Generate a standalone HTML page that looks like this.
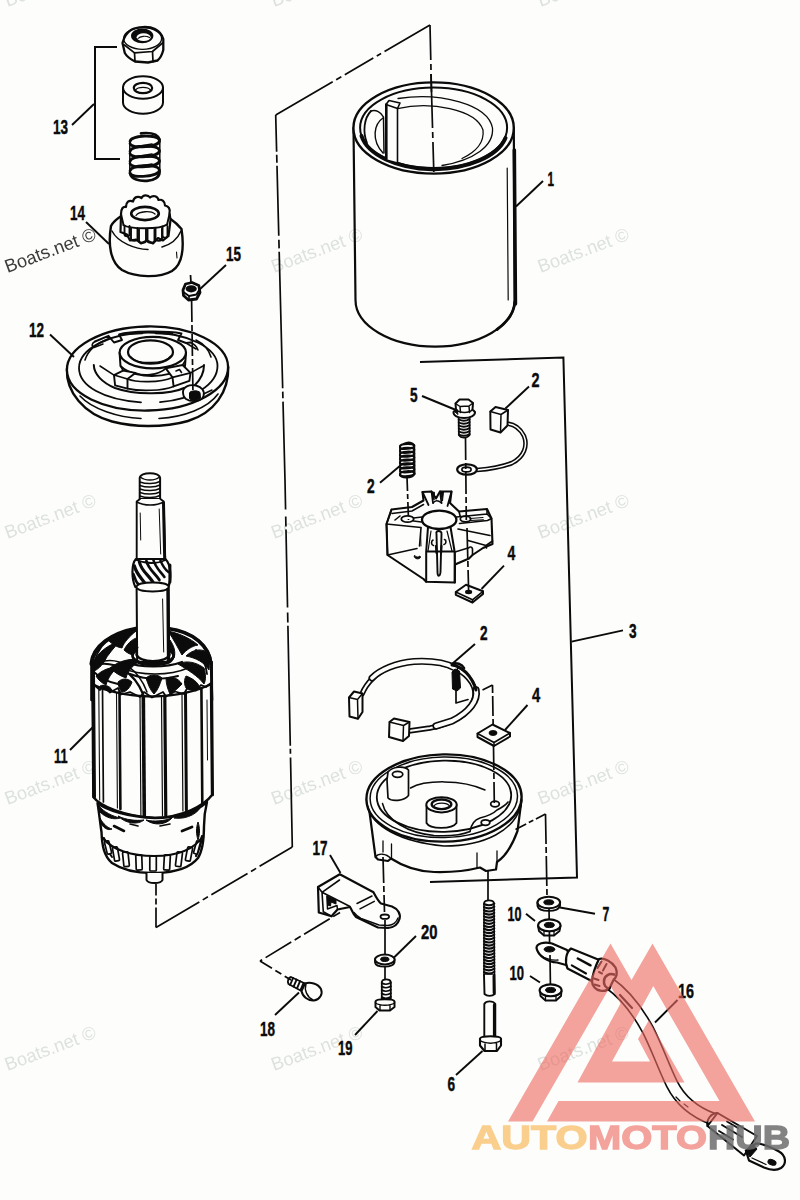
<!DOCTYPE html>
<html lang="en">
<head>
<meta charset="utf-8">
<title>Starter Motor Assembly - Exploded Parts Diagram</title>
<style>
html,body{margin:0;padding:0;background:#fdfefc;}
body{width:800px;height:1200px;overflow:hidden;font-family:"Liberation Sans",sans-serif;}
svg{display:block;position:absolute;left:0;top:0;}
.ln{fill:none;stroke:#0b0b0b;stroke-width:1.7;stroke-linecap:round;stroke-linejoin:round;}
.lw{fill:#fdfefc;stroke:#0b0b0b;stroke-width:1.7;stroke-linecap:round;stroke-linejoin:round;}
.th{fill:none;stroke:#0b0b0b;stroke-width:1.1;stroke-linecap:round;stroke-linejoin:round;}
.tk{fill:none;stroke:#0b0b0b;stroke-width:2.8;stroke-linecap:round;stroke-linejoin:round;}
.bk{fill:#0b0b0b;stroke:#0b0b0b;stroke-width:1;stroke-linejoin:round;}
.ld{fill:none;stroke:#0b0b0b;stroke-width:1.9;stroke-linecap:butt;}
.ds{fill:none;stroke:#0b0b0b;stroke-width:1.7;stroke-linecap:butt;}
.num{font-family:"Liberation Sans",sans-serif;font-weight:700;font-size:20.5px;fill:#0b0b0b;stroke:#0b0b0b;stroke-width:0.45;}
.wm{font-family:"Liberation Sans",sans-serif;font-size:18.5px;fill:#dfe3e1;}
.wmd{font-family:"Liberation Sans",sans-serif;font-size:18.5px;fill:#3c3c3c;}
.logo{font-family:"Liberation Sans",sans-serif;font-weight:700;font-size:32.5px;}
</style>
</head>
<body>
<svg width="800" height="1200" viewBox="0 0 800 1200">
<rect x="0" y="0" width="800" height="1200" fill="#fdfefc"/>
<!-- 20_cyl -->
<g>
<!-- body -->
<path class="lw" d="M353.5,128 L355.5,300 A79.5,46.5 0 0 0 514.8,300 L513.8,128 Z" style="stroke-width:2.2"/>
<ellipse class="lw" cx="433.6" cy="128" rx="80.2" ry="45.6" style="stroke-width:2.4"/>
<ellipse class="th" cx="433.6" cy="127.8" rx="73.5" ry="40.2" style="stroke-width:2"/>
<!-- thick front inner wall -->
<path class="tk" d="M361.5,136 A73.5,40.2 0 0 0 505.5,138" style="stroke-width:4"/>
<!-- third inner ellipse (far wall bottom) -->
<path class="th" d="M398,98.5 C440,92 488,104 492.5,128 C494,146 474,160 442,165.5" style="stroke-width:1.3"/>
<path class="th" d="M397.500,108.700 C430,101 476,109 483,130 C484.500,142 476,152 462,158.500" style="stroke-width:1.3"/>
<!-- pole piece -->
<path class="lw" d="M386,104.5 L389,100.5 L400,103 L397.5,108.5 L397.5,163 L386.3,160 Z" style="stroke-width:1.6"/>
<path class="ln" d="M386,104.5 L397.5,108.5" style="stroke-width:1.4"/>
<path class="ln" d="M386.3,104.5 L386.3,159" style="stroke-width:2.6"/>
<!-- left curved magnet -->
<path class="ln" d="M371,111 C376,109.5 381,112 383.5,117 L384,153" style="stroke-width:1.5"/>
<path class="ln" d="M383,118 C374,124 371,140 383,153" style="stroke-width:1.4"/>
<path class="ln" d="M371,111 C364,118 362.5,132 367,143" style="stroke-width:1.8"/>
<!-- right side shadow -->
<path class="tk" d="M514.3,150 L515.4,304" style="stroke-width:3.6"/>
<path class="th" d="M507.2,168 L508.2,300" style="stroke-width:1.2"/>
<path class="tk" d="M497,329.5 A79.5,46.5 0 0 0 514.8,302" style="stroke-width:2.8"/>
<!-- centre line inside -->
<path class="ds" d="M431,74 L433.800,172" stroke-dasharray="54 4 6 4 40"/>
</g>
<!-- 30_p13 -->
<g>
<!-- nut 13 -->
<path class="lw" d="M122.500,43 C124,37 127,32.500 131,30 C137,26.500 149,26 155,29 C159,31 162,34.500 163.300,39 L163.300,50 C162,55 160,58.500 157.500,60.500 L148,62.500 L135,61.500 C130,59 126.500,56 124.800,53 Z" style="stroke-width:2.3"/>
<ellipse class="ln" cx="142.600" cy="38.500" rx="19" ry="10.800" style="stroke-width:1.3"/>
<path class="ln" d="M124.500,45 L134.500,52.800 L152.500,51.500 L162.500,43" style="stroke-width:1.7"/>
<path class="ln" d="M134.500,52.800 L135,61.500 M152.500,51.500 L153,61.800" style="stroke-width:1.7"/>
<ellipse cx="142.200" cy="35.800" rx="10.200" ry="6.400" fill="#0b0b0b" stroke="#0b0b0b" stroke-width="2"/>
<ellipse cx="143.600" cy="37.200" rx="7" ry="3.900" fill="#fdfefc"/>
<path class="ln" d="M138,38.500 C140,36 146,35.500 149.500,37.500" style="stroke-width:1.2"/>
<!-- spacer -->
<path class="lw" d="M123,87.5 L123,102.5 A20,11.3 0 0 0 163,102.5 L163,87.5" style="stroke-width:2"/>
<ellipse class="lw" cx="143" cy="87.5" rx="20" ry="11.3" style="stroke-width:2"/>
<ellipse class="lw" cx="143" cy="88" rx="9.2" ry="5.2" style="stroke-width:2.2"/>
<path class="ln" d="M135.5,90 C138,86.5 148,86.5 150.5,90" style="stroke-width:1.3"/>
<!-- spring -->
<g fill="none" stroke="#0b0b0b" stroke-width="2.7" stroke-linecap="round">
<path d="M141,133.300 C151,132.300 158,134.500 159.500,139.500"/>
<path d="M130,141.5 C131,135.0 158,134.0 159.500,140.5 C160,147.0 132,149.5 130,143.5"/>
<path d="M130,151.5 C131,145.0 158,144.0 159.500,150.5 C160,157.0 132,159.5 130,153.5"/>
<path d="M130,161.5 C131,155.0 158,154.0 159.500,160.5 C160,167.0 132,169.5 130,163.5"/>
<path d="M130,171 C131,164.5 158,163.5 159.500,170 C160,176.5 132,179 130,173"/>
<path d="M130,173 C131,179.500 140,181.300 147,180.800 C154,180.300 160,177 159.500,171.500"/>
<path d="M129.800,141 L129.800,174 M159.800,139 L159.800,172" stroke-width="1.5"/>
<path d="M137,146.500 L152,144 M137,156.500 L152,154 M137,166.500 L152,164" stroke-width="1.6"/>
</g>
</g>
<!-- 31_p14 -->
<g>
<!-- pinion 14: dome body -->
<path class="lw" d="M111,226 C108,244 110,262 122,270 C136,278 160,278 172,271 C183,264 184,246 181.5,229 C176,222 170,218.500 168,217 L123,215 C118,218 113,222 111,226 Z" style="stroke-width:2.4"/>
<path class="ln" d="M112,231 C118,243 136,249 148,249.500" style="stroke-width:1.5"/>
<path class="ln" d="M162,247 C171,244.500 178,238 181,231" style="stroke-width:1.5"/>
<path class="th" d="M176.500,252 L177,258"/>
<!-- gear teeth top -->
<path class="lw" d="M120.500,232 L121,214 C121,209 123,206 126,207 C126,202 129,199.500 133,201.500 C134,197 138,195.500 141.500,198 C143,194.500 148,194.500 150,197.500 C153,195 157.500,196 158.500,200 C162,199 165,201.500 165,205.500 C168.500,206 170.500,209 169.500,213 L170.500,220 L168.500,236 L163,240.500 L158,238 L153,243.500 L147,240.500 L141,243.500 L136,239.500 L130,240.500 L127,234.500 Z" style="stroke-width:2.2"/>
<ellipse class="lw" cx="145" cy="213.500" rx="13.8" ry="6.600" style="stroke-width:2.6"/>
<path class="ln" d="M136,215.500 C139,211 151,210.500 155,214" style="stroke-width:1.3"/>
<g class="ln" style="stroke-width:1.9">
<path d="M124.5,226 L124.5,234 C124.5,237 129.5,237 129.5,234 L129.5,226"/>
<path d="M131,228 L131,238.5 C131,241.5 137.5,241.5 137.5,238.5 L137.5,228"/>
<path d="M139,229.5 L139,240.5 C139,243.5 146,243.5 146,240.5 L146,229.5"/>
<path d="M147.5,229.5 L147.5,240.5 C147.5,243.5 154.5,243.5 154.5,240.5 L154.5,229.5"/>
<path d="M155.5,228.5 L155.5,238.5 C155.5,241.5 162.0,241.5 162.0,238.5 L162.0,228.5"/>
<path d="M162.5,226.5 L162.5,235.5 C162.5,238.5 167.5,238.5 167.5,235.5 L167.5,226.5"/>
<path d="M121,214 L123.500,225 M169.500,214 L167,225"/>
<path d="M123.500,225 C130,229.500 160,229.500 167,224.500"/>
</g>
<!-- nut 15 -->
<path class="lw" d="M183,290 L185.500,284 L192,282.500 L198.800,285.500 L200,292.500 L196.500,299 L188.500,300 L183.500,295.500 Z" style="stroke-width:2.8"/>
<ellipse cx="191.200" cy="288.800" rx="5.600" ry="3.600" fill="#0b0b0b"/>
<path class="ln" d="M184,292.500 L189,296 L196.500,294.500 L199.500,289.500" style="stroke-width:2"/>
<path class="ln" d="M189,296 L189,299.500" style="stroke-width:1.6"/>
</g>
<!-- 32_p12 -->
<g>
<!-- plate 12 : bowl underside -->
<path class="lw" d="M66.900,369 C66,392 84,414 112,421.500 C124,424.500 136,426 148,426 C160,426 176,424.500 188,421 C214,413 229,392 228.200,367 Z" style="stroke-width:2.4"/>
<path class="ln" d="M80,396 C92,409 118,417.500 141,418.500 M159,418.500 C184,417 208,408 218,394" style="stroke-width:1.6"/>
<!-- top rim -->
<ellipse class="lw" cx="147.500" cy="368.500" rx="80.600" ry="42" style="stroke-width:2.3" transform="rotate(-1.3 147.5 368.5)"/>
<!-- inner ring (broken at bottom centre) -->
<path class="ln" d="M141,402.300 C104,400 79,386 79,368 C79,349 110,332.500 148,332.500 C188,332.500 217.500,348 217.500,366 C217.500,384 194,399.500 160,402.200" style="stroke-width:1.8"/>
<!-- dish walls -->
<path class="ln" d="M93.800,365 C94,374 102,382.500 115,388 C126,392 140,393.500 152,393.300 C166,393 178,391 184,388" style="stroke-width:2"/>
<path class="ln" d="M204,365 C204,372 201,379 195,385" style="stroke-width:2"/>
<path class="ln" d="M85,360 C88,350 96,344 106,340 M196,340 C204,344 209,350 211,357" style="stroke-width:1.6"/>
<!-- top inner contour + notches -->
<path class="ln" d="M95,341.500 L108.500,335.800 L114,342.500 L122,340 L119,334.500 C130,331 166,330.500 181.500,333.500 L178,340 L186,343 L190.500,342.500" style="stroke-width:1.9"/>
<path class="ln" d="M95,341.500 C92,343 91,346 94,347.500 L103,344" style="stroke-width:1.5"/>
<path class="tk" d="M131,333.500 L142,333 M156,333 L172,333.800" style="stroke-width:2.6"/>
<path class="ln" d="M186,343 L196,349 M190.500,342.500 C194,344 197,347 198,350" style="stroke-width:1.5"/>
<!-- hub -->
<path class="lw" d="M119.600,353 L120.500,366 C128,374 144,376 152,376 C164,376 178,373 185,366 L186,353" style="stroke-width:2"/>
<ellipse class="lw" cx="152.800" cy="352.600" rx="33.200" ry="15.700" style="stroke-width:2.2"/>
<ellipse class="lw" cx="150.500" cy="352" rx="22.500" ry="11.600" style="stroke-width:2.2"/>
<path class="ln" d="M131,357 C136,364.500 165,364.500 170.500,356" style="stroke-width:1.3"/>
<!-- left rib -->
<path class="lw" d="M114,375.100 L123,370.600 L135.400,372.900 L127.500,379 L127.500,388.600 L115.100,385.300 Z" style="stroke-width:1.9"/>
<path class="ln" d="M114,375.100 L127.500,379" style="stroke-width:1.6"/>
<path class="ln" d="M114,375.100 L100,366 M123,370.600 L120.500,366" style="stroke-width:1.5"/>
<!-- right rib -->
<path class="lw" d="M165.800,368.400 L182.600,365 L190.500,372.900 L189.400,380.800 L173.600,386.400 L172.500,377.400 Z" style="stroke-width:1.9"/>
<path class="ln" d="M172.500,377.400 L190.500,372.900 M176,371 L179.500,369.500 L181.500,372.500" style="stroke-width:1.6"/>
<path class="ln" d="M182.600,365 L185,361 M190.500,372.900 L203,366" style="stroke-width:1.5"/>
<!-- hub base between ribs -->
<path class="ln" d="M127.500,379 C136,382.500 160,383 172.500,377.400 M127.500,388.600 C140,391.500 162,391 173.600,386.400 M135.400,372.900 C142,376 158,376 165.800,368.400" style="stroke-width:1.6"/>
<!-- bolt boss -->
<path class="lw" d="M183,392 C183,387 189,384 196,385.500 C202,387 205,391 203.500,396 C202,401 192,403 186,399 C184,397.500 183,395 183,392 Z" style="stroke-width:1.9"/>
<path class="bk" d="M189.500,393 C190,390.500 198,390 200,392.500 L200.500,398 C199,401 191,401.500 189.500,398.500 Z"/>
<path class="ln" d="M203.500,394 L212,390" style="stroke-width:1.5"/>
</g>
<!-- 40_arm -->
<g>
<path class="lw" d="M91.500,700 L91.500,662 C93,646 112,633 137,628.500 L168,628.500 C194,632 209,646 211,662 L212,700 Z" style="stroke-width:2.6"/>
<path class="tk" d="M91.500,664 C93,646 112,633 137,628.500" style="stroke-width:4.2"/>
<path class="tk" d="M168,628.500 C194,632 209,646 211,664" style="stroke-width:3.6"/>
<path class="bk" d="M93,663 C98,652 108,645 120,641 C114,648 108,654 104,662 C100,668 96,670 93,672 Z"/>
<path class="bk" d="M108,640 C118,634 128,631.500 136,631 C130,636 124,642 122,648 C116,647 112,644 108,640 Z"/>
<path class="bk" d="M124,650 C128,642 134,638 140,637 C137,643 137,650 140,656 C134,656 128,654 124,650 Z"/>
<path class="bk" d="M96,676 C102,670 110,667 118,667 C112,672 108,678 106,685 C102,683 98,680 96,676 Z"/>
<path class="bk" d="M110,668 C120,660 132,658 142,660 C134,664 128,670 126,678 C120,676 114,672 110,668 Z"/>
<path class="bk" d="M168,631 C178,633 190,638 198,645 C192,646 186,650 182,655 C178,648 174,640 168,631 Z"/>
<path class="bk" d="M186,656 C192,650 200,648 207,652 C209,658 210,664 209,670 C204,662 196,658 186,656 Z"/>
<path class="bk" d="M170,640 C174,646 176,652 174,658 C170,658 166,656 164,652 C166,648 168,644 170,640 Z"/>
<path class="bk" d="M178,664 C186,660 196,662 204,668 C206,674 206,680 204,684 C198,676 188,670 178,664 Z"/>
<path class="bk" d="M186,676 C192,678 198,682 200,688 C196,690 190,690 186,688 C184,684 184,680 186,676 Z"/>
<path class="bk" d="M118,682 C122,678 128,678 132,682 C130,688 126,692 122,692 C120,690 118,686 118,682 Z"/>
<path class="bk" d="M146,678 C150,674 158,674 162,678 C160,684 158,690 154,694 C150,690 148,684 146,678 Z"/>
<path class="bk" d="M166,678 C172,676 178,678 182,684 C178,688 174,692 170,694 C168,690 166,684 166,678 Z"/>
<path class="bk" d="M100,686 C104,684 110,686 112,690 C110,692 106,692 102,691 Z"/>
<path class="ln" d="M100,664 C116,662 134,672 143,694" style="stroke-width:2.2"/>
<path class="ln" d="M104,661 C120,658 138,668 147,692" style="stroke-width:1.5"/>
<path class="ln" d="M126,662 C140,668 166,668 182,662" style="stroke-width:2.2"/>
<path class="ln" d="M122,668 C140,676 170,676 188,668" style="stroke-width:1.6"/>
<path class="ln" d="M130,674 C146,680 164,680 178,676" style="stroke-width:2"/>
<path class="ln" d="M94,672 C100,678 108,682 118,684" style="stroke-width:1.8"/>
<path class="ln" d="M196,650 C202,656 206,664 207,674" style="stroke-width:1.8"/>
<path class="ln" d="M112,636 C104,642 98,650 95,660" style="stroke-width:1.6"/>
<ellipse class="lw" cx="153" cy="656" rx="20.500" ry="8.600" style="stroke-width:2.4"/>
<ellipse class="lw" cx="153" cy="655" rx="16.500" ry="6.600" style="stroke-width:1.8"/>
<path class="lw" d="M92.500,684 L93.300,797 C100,806 125,817 155,818 C182,817 204,806 212,795 L211,684 C200,690 178,696 152,696.500 C126,696 102,690 92.500,684 Z" style="stroke-width:2.4"/>
<path class="ln" d="M93,684 L100,690 L103,686 L110,692.500 L118,688 L121,694.500 L130,692 L140,697 L144,692 L152,697.500 L163,692 L166,696.500 L175,691.500 L184,694 L187,688.500 L196,690.500 L201,685 L206,687 L211,683" style="stroke-width:1.8"/>
<path class="ln" d="M93.2,662 L94.3,797" style="stroke-width:3.4"/>
<path class="ln" d="M98.8,690 L99.7,800" style="stroke-width:1.1"/>
<path class="ln" d="M102.5,688 L103.4,802" style="stroke-width:1.7"/>
<path class="ln" d="M116.5,693 L117.4,808" style="stroke-width:1.1"/>
<path class="ln" d="M119.5,692 L120.4,809" style="stroke-width:2.6"/>
<path class="ln" d="M140.0,697 L140.9,815" style="stroke-width:1.2"/>
<path class="ln" d="M143.3,696 L144.3,816" style="stroke-width:3.6"/>
<path class="ln" d="M161.5,697 L162.5,816" style="stroke-width:1.2"/>
<path class="ln" d="M164.8,696 L165.8,816" style="stroke-width:3.2"/>
<path class="ln" d="M182.0,694 L182.9,811" style="stroke-width:1.2"/>
<path class="ln" d="M185.5,693 L186.4,810" style="stroke-width:3.0"/>
<path class="ln" d="M201.4,688 L202.3,803" style="stroke-width:2.6"/>
<path class="ln" d="M211.6,662 L212.7,795" style="stroke-width:2.6"/>
<path class="ln" d="M207.0,700 L207.5,760" style="stroke-width:1.0"/>
<path class="lw" d="M97.500,803 C99,812 100,822 101.500,832 C102,846 104,856 112,863 C124,871 140,873.500 156,873 C174,872.500 190,868 198,858 C203,850 204,838 204,826 C204,818 205,810 207,802 C196,812 176,818 155,818 C128,817 106,810 97.500,803 Z" style="stroke-width:2.4"/>
<path class="bk" d="M99,806 C104,812 112,816 120,818 C114,820 106,818 100,812 Z"/>
<path class="bk" d="M118,816 C126,820 136,821 144,820 C138,825 126,824 118,816 Z"/>
<path class="bk" d="M146,820 C154,822 164,821 172,818 C166,825 154,826 146,820 Z"/>
<path class="bk" d="M174,818 C184,815 194,810 202,804 C200,812 188,820 174,818 Z"/>
<path class="bk" d="M100,818 C103,824 108,828 112,829 C108,831 103,828 100,822 Z"/>
<path class="bk" d="M198,822 C200,828 200,834 198,840 C196,834 196,828 198,822 Z"/>
<path class="ln" d="M114,826 L124,831" style="stroke-width:2.6"/>
<path class="ln" d="M182,831 L192,827" style="stroke-width:2.8"/>
<path class="ln" d="M130,824 L138,826" style="stroke-width:1.6"/>
<path class="ln" d="M160,826 L170,824" style="stroke-width:1.6"/>
<path class="ln" d="M104,838 C106,846 108,852 112,857" style="stroke-width:2"/>
<path class="ln" d="M202,836 C201,844 199,850 196,856" style="stroke-width:2.2"/>
<rect class="lw" x="105.8" y="841" width="4.5" height="13" rx="1" style="stroke-width:1.7" transform="rotate(-14 108 847.5)"/>
<rect class="lw" x="113.5" y="847" width="5" height="14" rx="1" style="stroke-width:1.7" transform="rotate(-10 116 854.0)"/>
<rect class="lw" x="123.2" y="852" width="5.5" height="14.5" rx="1" style="stroke-width:1.7" transform="rotate(-6 126 859.25)"/>
<rect class="lw" x="136.0" y="855" width="6" height="15" rx="1" style="stroke-width:1.7" transform="rotate(-2 139 862.5)"/>
<rect class="lw" x="149.8" y="856" width="6.5" height="15" rx="1" style="stroke-width:1.7" transform="rotate(0 153 863.5)"/>
<rect class="lw" x="164.0" y="855" width="6" height="15" rx="1" style="stroke-width:1.7" transform="rotate(3 167 862.5)"/>
<rect class="lw" x="176.2" y="852" width="5.5" height="14.5" rx="1" style="stroke-width:1.7" transform="rotate(7 179 859.25)"/>
<rect class="lw" x="186.5" y="847" width="5" height="14" rx="1" style="stroke-width:1.7" transform="rotate(11 189 854.0)"/>
<rect class="lw" x="195.0" y="841" width="4" height="13" rx="1" style="stroke-width:1.7" transform="rotate(15 197 847.5)"/>
<path class="ln" d="M103,838 C112,850 132,856 154,856 C176,856 194,850 203,836" style="stroke-width:2.2"/>
<path class="lw" d="M146.500,873 L146.500,880 C148,884 161,884 162.500,880 L162.500,873" style="stroke-width:2"/>
</g>
<g>
<path class="lw" d="M139.7,499 L139.7,478 C139.9,471.500 159.9,471.500 160.1,478 L160.1,499 Z" style="stroke-width:2"/>
<path class="ln" d="M139.9,482 C145.9,484.2 154.9,484.2 159.9,481.5" style="stroke-width:1.5"/>
<path class="ln" d="M139.9,485.5 C145.9,487.7 154.9,487.7 159.9,485.0" style="stroke-width:1.5"/>
<path class="ln" d="M139.9,489 C145.9,491.2 154.9,491.2 159.9,488.5" style="stroke-width:1.5"/>
<path class="ln" d="M139.9,492.5 C145.9,494.7 154.9,494.7 159.9,492.0" style="stroke-width:1.5"/>
<path class="ln" d="M139.9,496 C145.9,498.2 154.9,498.2 159.9,495.5" style="stroke-width:1.5"/>
<path class="ln" d="M140.4,477 C144.9,481 154.9,481 159.4,477" style="stroke-width:1.3"/>
<path class="lw" d="M140.0,499 L136.7,501.5 L136.7,560 L165.2,560 L163.7,501.5 L160.4,499 " style="stroke-width:1.9"/>
<path class="ln" d="M136.7,502 C144.2,506 156.2,506 163.7,502" style="stroke-width:1.5"/>
<path class="tk" d="M163.5,503 L164.7,560" style="stroke-width:3"/>
<path class="th" d="M159.2,509 L160.7,554" style="stroke-width:1"/>
<path class="th" d="M140.2,513 L140.7,540" style="stroke-width:1"/>
<path class="lw" d="M135.9,559 C131.4,564 131.4,579 135.4,587 L168.4,587 C171.4,579 171.4,565 165.4,559 Z" style="stroke-width:2.2"/>
<path class="ln" d="M134.4,566 C136.4,574.0 141.4,578.0 145.4,584" style="stroke-width:3.2"/>
<path class="ln" d="M139.4,562 C141.4,571.5 149.4,575.5 153.4,583" style="stroke-width:3.2"/>
<path class="ln" d="M146.4,561 C148.4,569.5 155.4,573.5 159.4,580" style="stroke-width:2.8"/>
<path class="ln" d="M153.4,560 C155.4,567.5 160.4,571.5 164.4,577" style="stroke-width:2.6"/>
<path class="ln" d="M160.4,560.5 C162.4,565.2 164.4,569.2 168.4,572" style="stroke-width:2.4"/>
<path class="ln" d="M133.4,574 C135.4,578.5 135.4,582.5 139.4,585" style="stroke-width:2.6"/>
<path class="ln" d="M136.4,560 C145.4,564 157.4,564 165.4,560" style="stroke-width:1.8"/>
<path class="tk" d="M169.9,565 L169.9,582" style="stroke-width:3"/>
<path class="lw" d="M136.6,587 L137.2,662 L169.2,662 L168.6,587 Z" style="stroke-width:2"/>
<path class="lw" d="M136.6,587 C136.6,581 168.6,581 168.6,587 C168.6,593 136.6,593 136.6,587 Z" style="stroke-width:1.8"/>
<path class="tk" d="M167.9,589 L168.5,662" style="stroke-width:3.2"/>
<path class="th" d="M162.6,599 L163.7,652" style="stroke-width:1"/>
</g>
<g>
<path class="lw" d="M132.500,655 C132.500,666.500 173.500,666.500 173.500,655 C173.500,660.500 169,662.500 169,662.500 C160,666 146,666 137.500,662.500 C133.500,660 132.500,657 132.500,655 Z" style="stroke-width:2.2"/>
<path class="ln" d="M136.500,654 C138,663.500 168,663.500 169.500,654" style="stroke-width:2.4"/>
<path class="ln" d="M132.500,655 C132.500,650 136,648 137.500,647.500 M173.500,655 C173.500,650 170,648 168.500,647.500" style="stroke-width:2"/>
</g>
<!-- 50_upper -->
<g>
<path class="lw" d="M458.600,416 L458.900,435 C461,438.500 467,438.500 469.600,435 L469.600,416 Z" style="stroke-width:1.8"/>
<path class="ln" d="M458.800,419.5 C462,421.1 466,421.1 469.600,419.1" style="stroke-width:1.9"/>
<path class="ln" d="M458.800,422.5 C462,424.1 466,424.1 469.600,422.1" style="stroke-width:1.9"/>
<path class="ln" d="M458.800,425.5 C462,427.1 466,427.1 469.600,425.1" style="stroke-width:1.9"/>
<path class="ln" d="M458.800,428.5 C462,430.1 466,430.1 469.600,428.1" style="stroke-width:1.9"/>
<path class="ln" d="M458.800,431.5 C462,433.1 466,433.1 469.600,431.1" style="stroke-width:1.9"/>
<path class="ln" d="M458.800,434.5 C462,436.1 466,436.1 469.600,434.1" style="stroke-width:1.9"/>
<path class="lw" d="M453.500,412 C453,415.500 458,418 464,418 C470,418 475.500,415.500 475,412 L472.500,409.500 L473,403 L468.500,399.500 L459.500,399.500 L455.500,403.500 L456,409.500 Z" style="stroke-width:2"/>
<path class="ln" d="M455.500,403.500 L460,406.500 L469,406 L473,403 M460,406.500 L460.500,412.500 M469,406 L469.500,412.500" style="stroke-width:1.5"/>
<path class="ln" d="M456,409.500 C460,413.500 469,413.500 472.500,409.500" style="stroke-width:1.4"/>
<path class="bk" d="M454.500,411.500 L457,409 L458,414.500 Z"/>
<path class="ln" d="M506.500,423.500 C514,424 520,428 524,436 C528,446 524,457 512,463 C502,467 490,469 477,470" style="stroke-width:4.6"/>
<path class="ln" d="M506.500,423.500 C514,424 520,428 524,436 C528,446 524,457 512,463 C502,467 490,469 477,470" style="stroke:#fdfefc;stroke-width:1.5"/>
<path class="lw" d="M490.300,411.500 L495.500,407 L508,410 L507.500,425.500 L500.500,432.500 L490.500,429.500 Z" style="stroke-width:2"/>
<path class="ln" d="M490.300,411.500 L501,414.500 L508,410 M501,414.500 L500.500,432.500" style="stroke-width:1.5"/>
<ellipse class="lw" cx="467" cy="469.500" rx="9.800" ry="5.200" style="stroke-width:2.2"/>
<ellipse class="lw" cx="466.500" cy="469.500" rx="4.600" ry="2.400" style="stroke-width:1.7"/>
<g fill="none" stroke="#0b0b0b" stroke-width="2.1" stroke-linecap="round">
<path d="M400,446.5 C400.500,443.3 413.500,442.9 414.300,445.9 C414.600,449.1 401,449.9 400,447.7"/>
<path d="M400,450.4 C400.500,447.2 413.500,446.8 414.300,449.8 C414.600,453.0 401,453.8 400,451.6"/>
<path d="M400,454.3 C400.500,451.1 413.500,450.7 414.300,453.7 C414.600,456.9 401,457.7 400,455.5"/>
<path d="M400,458.2 C400.500,455.0 413.500,454.6 414.300,457.6 C414.600,460.8 401,461.6 400,459.4"/>
<path d="M400,462.1 C400.500,458.9 413.500,458.5 414.300,461.5 C414.600,464.7 401,465.5 400,463.3"/>
<path d="M400,466.0 C400.500,462.8 413.500,462.4 414.300,465.4 C414.600,468.6 401,469.4 400,467.2"/>
<path d="M400,469.9 C400.500,466.7 413.500,466.3 414.300,469.3 C414.600,472.5 401,473.3 400,471.1"/>
<path d="M400,473.8 C400.500,470.6 413.500,470.2 414.300,473.2 C414.600,476.4 401,477.2 400,475.0"/>
<path d="M404,444 C408,441.500 413,442.500 414,445.500"/>
<path d="M400,474.500 C401,478.500 412,478.500 414.500,474"/>
<path d="M400,446 L400.400,475 M414.400,445 L414.700,474" stroke-width="1.6"/>
</g>
<path class="lw" d="M391.500,509.500 L412,507 L423.500,500.500 L422.500,492 L431.500,491.500 L436,498.500 L440,491.500 L451.500,491.500 L450,503 L459,511.500 L487,509 L491.500,518.500 L492.500,544 L483,548 L472.500,555 L469,558.500 L455,564.500 L454.800,582.500 L426.200,581.800 L423.500,579 L387.500,555 L386.500,524 Z" style="stroke-width:2.1"/>
<path class="ln" d="M422.500,492 L428.500,505 M431.500,491.500 L433,503 M440,491.500 L441.500,503 M451.500,491.500 L447.500,506" style="stroke-width:1.8"/>
<path class="ln" d="M433,503 C435,500 438,500 441.500,503" style="stroke-width:1.5"/>
<path class="bk" d="M431.800,492 L434.500,492.300 L434,500 Z"/>
<path class="bk" d="M440.500,492 L443.500,492 L442.500,501 Z"/>
<ellipse class="lw" cx="439.200" cy="519.800" rx="17.200" ry="9.200" style="stroke-width:2.3"/>
<path class="ln" d="M391.500,509.500 L386.500,524 M386.500,524 L421,527.500 M392,513.500 L412,511 L423.500,504.500 M395,520 L400,516" style="stroke-width:1.6"/>
<ellipse class="lw" cx="407.500" cy="519" rx="6.200" ry="3.200" style="stroke-width:1.8"/>
<path class="ln" d="M413.500,518 L422,517 M413.500,521 L421.500,522" style="stroke-width:1.4"/>
<path class="ln" d="M386.500,524 L387.500,555 M387.500,555 L417,548.500 M421,528 L419.500,546" style="stroke-width:1.6"/>
<path class="th" d="M420.500,530 L421,546" style="stroke-width:1"/>
<path class="bk" d="M414,556 C415,559.500 419,559.500 420.500,557.500 L420,556 C418,557.500 416,557.500 415,555.500 Z"/>
<path class="ln" d="M456.500,517 L487,514 L491.500,518.500 M459,511.500 L460,515.500 M487,509 L487,514 M459.500,523.500 L487.500,520.500 L491.500,518.500" style="stroke-width:1.6"/>
<ellipse class="lw" cx="465.500" cy="519" rx="5.200" ry="2.800" style="stroke-width:1.8"/>
<path class="ln" d="M470,518.500 L483,517.500 M470,520.500 L483.500,519.800" style="stroke-width:1.2"/>
<path class="ln" d="M458,529 L490,535.500 M468,540.500 L486,545.500 L492.500,541 M468.500,548 C470,546.500 472,546.500 472.500,549 L472.500,555 M486,545.500 L486.500,548" style="stroke-width:1.6"/>
<path class="ln" d="M455,552 L468,548 M455,564.500 L455,552" style="stroke-width:1.5"/>
<path class="ln" d="M428,527 L426.200,551.500 L426.200,581.800 M450.500,527 L454.600,551.500 L454.800,582.500 M426.200,551.500 L454.600,551.500" style="stroke-width:2"/>
<path class="ln" d="M431,531 L428,551 M447,531 L452,551" style="stroke-width:1.2"/>
<path class="ln" d="M436.500,534 C435,530 442,530 441.500,534 L440.500,572 C440,577 437.500,577 437.500,572 Z" style="stroke-width:1.9"/>
<path class="ln" d="M433,540 C431,541 431,545 433.500,545.500 M444.500,539.500 C446.500,540 446.500,544 444,544.500" style="stroke-width:1.6"/>
<path class="ln" d="M436,546 L436.500,553 M441.500,546 L441,553" style="stroke-width:2.2"/>
<path class="lw" d="M455.800,592 L466,584.800 L483,591.300 L483,594 L472.500,602.500 L455.800,594.800 Z" style="stroke-width:2"/>
<path class="ln" d="M455.800,592 L472.500,599.800 L483,591.300 M472.500,599.800 L472.500,602.500" style="stroke-width:1.6"/>
<ellipse cx="468.600" cy="592" rx="3.600" ry="2.200" fill="#0b0b0b"/>
</g>
<!-- 60_lower -->
<g>
<path class="ln" d="M362,694 C366,684 376,672 392,666 C410,660 436,659 455,668 C470,676 478,688 474,700 C470,714 452,724 430,728 L409,731" style="stroke-width:5.4"/>
<path class="ln" d="M362,694 C366,684 376,672 392,666 C410,660 436,659 455,668 C470,676 478,688 474,700 C470,714 452,724 430,728 L409,731" style="stroke:#fdfefc;stroke-width:2.2"/>
<path class="ln" d="M372,678 C380,670 396,663 414,661.500 C432,660.500 446,663 455,668" style="stroke-width:7"/>
<path class="ln" d="M372,678 C380,670 396,663 414,661.500 C432,660.500 446,663 455,668" style="stroke:#fdfefc;stroke-width:3.8"/>
<path class="ln" d="M476,690 C478,700 470,712 452,721 L436,726" style="stroke-width:7.4"/>
<path class="ln" d="M476,690 C478,700 470,712 452,721 L436,726" style="stroke:#fdfefc;stroke-width:4"/>
<path class="ln" d="M452,665 C462,666 472,676 476,690" style="stroke-width:3"/>
<path class="lw" d="M349,697.500 L354,691.500 L362.500,693.500 L362.500,712 L358,718.800 L349.500,716.500 Z" style="stroke-width:2"/>
<path class="ln" d="M349,697.500 L357.500,699.500 L362.500,693.500 M357.500,699.500 L358,718.800" style="stroke-width:1.5"/>
<path class="lw" d="M389.500,722 L394,718.500 L409.500,722 L409,736 L403,741 L389,737 Z" style="stroke-width:2"/>
<path class="ln" d="M389.500,722 L403.500,725.500 L409.500,722 M403.500,725.500 L403,741" style="stroke-width:1.5"/>
<path class="bk" d="M452,672 L455,669 L459.500,671 L460.500,688 L457,691 L452.500,689 Z"/>
<path class="ln" d="M456,690 L456,703 L468,699.500" style="stroke-width:1.7"/>
<path class="ln" d="M452,664 C456,662 462,664 464,668" style="stroke-width:2.6"/>
<path class="lw" d="M477.500,733.500 L492.500,724.500 L510,733 L510,736.500 L494,746 L477.500,737 Z" style="stroke-width:2"/>
<path class="ln" d="M477.500,733.500 L494,742.500 L510,733 M494,742.500 L494,746" style="stroke-width:1.6"/>
<ellipse class="bk" cx="493" cy="733" rx="4" ry="2.4"/>
<path class="lw" d="M367,800 L369.500,812 L375.500,857 L378,859.500 L388,861 L391,858.500 C404,867 420,871.500 434,872 C452,872.500 470,870 480,867.500 L486,871 L496,869.500 L497,862 C506,856 512,846 517.500,831 L521.500,800 Z" style="stroke-width:2.2"/>
<path class="ln" d="M391.500,844 L391.500,858 M477,853 L477,868 M497,851 L497,862 M383,841 L383,852" style="stroke-width:1.3"/>
<path class="ln" d="M375.500,857 C378,853 386,853 391,858.500" style="stroke-width:1.4"/>
<ellipse class="lw" cx="444" cy="798" rx="77.6" ry="43.6" style="stroke-width:2.4" transform="rotate(-1.2 444 798)"/>
<ellipse class="ln" cx="443.8" cy="797.3" rx="73.7" ry="40.2" style="stroke-width:1.5" transform="rotate(-1.2 443.8 797.3)"/>
<ellipse class="ln" cx="444" cy="796.2" rx="67.2" ry="35.6" style="stroke-width:1.8" transform="rotate(-1.2 444 796.2)"/>
<path class="ln" d="M367.500,806 C372,826 400,842 444,846 C486,846 514,830 521,806" style="stroke-width:1.5"/>
<path class="ln" d="M410.500,788 C424,780 462,779 485,790 M382.500,803.500 C386,820 408,833 434,835.500 C452,836.500 464,834 470,831.500" style="stroke-width:1.5"/>
<path class="ln" d="M470,831.500 C471,825 474,820 480,818 C488,816 494,813 497,810 C501,808 505,806 508,802" style="stroke-width:1.6"/>
<path class="lw" d="M387,780 L388,798 C392,802 404,801 408.500,795.500 L408.500,770 C404,765 392,767 388,772 Z" style="stroke-width:1.7"/>
<ellipse class="lw" cx="397.6" cy="774.3" rx="5.2" ry="3" style="stroke-width:1.7"/>
<path class="lw" d="M426.500,806 L426.500,823 C430,829.500 452,829.500 456.500,823 L456.500,805" style="stroke-width:1.8"/>
<ellipse class="lw" cx="441.5" cy="804.8" rx="15.2" ry="7.6" style="stroke-width:2"/>
<ellipse class="lw" cx="441.5" cy="804.3" rx="9.8" ry="4.8" style="stroke-width:2.4"/>
<path class="ln" d="M433.500,806.500 C436,802 447,802 449.500,806" style="stroke-width:1.2"/>
<ellipse class="lw" cx="495" cy="804" rx="4.3" ry="2.8" style="stroke-width:1.8"/>
<ellipse class="lw" cx="485.5" cy="822.6" rx="4.3" ry="2.8" style="stroke-width:1.8"/>
</g>
<!-- 70_bottom -->
<g>
<path class="lw" d="M318,887 L339.800,874.300 L373.500,892.300 C376,897 378,901 381,903.500 L392,906.500 C398,909 401,914 399.500,919 C398,924 394,927.500 388,928 L378,927.500 L356,917 C353,914 352,910 350,907 L337.500,909.500 L331.500,916.300 L318.800,912.500 Z" style="stroke-width:2.2"/>
<path class="ln" d="M318,887 L322,892.300 L350,906.500 M322,892.300 L323.300,911.800 L331.500,916.300 M322,892.300 L339.500,880" style="stroke-width:1.6"/>
<path class="ln" d="M327,896 L327.500,909 L337,905.500 L337.500,909.500" style="stroke-width:1.5"/>
<path class="bk" d="M327,896 L336,900 L336,904 L331,902 L330.500,906 L327.500,905 Z"/>
<path class="ln" d="M357,903.500 L372,896 M360,908.800 L374.300,901.300" style="stroke-width:1.5"/>
<path class="ln" d="M354,912.500 C356,915 358,917 361,918.500 L379,925 L388,925.500 C393,925 396.500,922 398,918" style="stroke-width:1.4"/>
<ellipse class="lw" cx="384.8" cy="916.7" rx="4.3" ry="2.2" style="stroke-width:1.8"/>
<path class="lw" d="M375,959.500 L375,962.500 C376,968 393,968 394.500,962.500 L394.500,959.500" style="stroke-width:1.8"/>
<ellipse class="lw" cx="384.8" cy="959.5" rx="9.8" ry="4.9" style="stroke-width:2"/>
<ellipse class="bk" cx="384.8" cy="959.3" rx="4.2" ry="2.2"/>
<path class="lw" d="M381.800,999 L381.800,982 C382.500,978.500 390,978.500 390.800,982 L390.800,999 Z" style="stroke-width:1.8"/>
<path class="ln" d="M381.800,983 C384,984.5 388,984.5 390.800,982.7" style="stroke-width:1.9"/>
<path class="ln" d="M381.800,986.5 C384,988.0 388,988.0 390.800,986.2" style="stroke-width:1.9"/>
<path class="ln" d="M381.800,990 C384,991.5 388,991.5 390.800,989.7" style="stroke-width:1.9"/>
<path class="ln" d="M381.800,993.5 C384,995.0 388,995.0 390.800,993.2" style="stroke-width:1.9"/>
<path class="ln" d="M381.800,997 C384,998.5 388,998.5 390.800,996.7" style="stroke-width:1.9"/>
<path class="lw" d="M375.500,1001.500 C376,998.500 394,998.500 394.500,1001.500 L394.500,1007 L390,1010.500 L379.500,1010.500 L375.500,1007 Z" style="stroke-width:2"/>
<path class="ln" d="M375.500,1003 C380,1006 390,1006 394.500,1003 M380,1005.500 L380,1010 M390,1005.500 L390,1010" style="stroke-width:1.4"/>
<path class="lw" d="M291,977 L305,983.500 L301.500,991 L288.500,984 C287,981 288.500,977.500 291,977 Z" style="stroke-width:1.8"/>
<path class="ln" d="M293.1,978.0 L290.1,985.0" style="stroke-width:1.9"/>
<path class="ln" d="M296.6,979.6 L293.6,986.6" style="stroke-width:1.9"/>
<path class="ln" d="M300.1,981.2 L297.1,988.2" style="stroke-width:1.9"/>
<path class="ln" d="M303.6,982.9 L300.6,989.9" style="stroke-width:1.9"/>
<path class="lw" d="M305,983.500 C310,981.500 318,983.500 321,989 C323,994 320,999.500 314,1000.500 C308,1001 302.500,996.500 301.500,991 Z" style="stroke-width:2"/>
<path class="ln" d="M306,984 C304,990 307,997 313,1000" style="stroke-width:1.4"/>
<path class="lw" d="M484,975 L484,903 C485,899.500 493,899.500 494,903 L494.500,975 Z" style="stroke-width:1.6"/>
<path class="ln" d="M484,904.0 C487,905.6 491,905.6 494.300,903.6" style="stroke-width:2.1"/>
<path class="ln" d="M484,907.1 C487,908.7 491,908.7 494.300,906.7" style="stroke-width:2.1"/>
<path class="ln" d="M484,910.2 C487,911.8 491,911.8 494.300,909.8" style="stroke-width:2.1"/>
<path class="ln" d="M484,913.3 C487,914.9 491,914.9 494.300,912.9" style="stroke-width:2.1"/>
<path class="ln" d="M484,916.4 C487,918.0 491,918.0 494.300,916.0" style="stroke-width:2.1"/>
<path class="ln" d="M484,919.5 C487,921.1 491,921.1 494.300,919.1" style="stroke-width:2.1"/>
<path class="ln" d="M484,922.6 C487,924.2 491,924.2 494.300,922.2" style="stroke-width:2.1"/>
<path class="ln" d="M484,925.7 C487,927.3 491,927.3 494.300,925.3" style="stroke-width:2.1"/>
<path class="ln" d="M484,928.8 C487,930.4 491,930.4 494.300,928.4" style="stroke-width:2.1"/>
<path class="ln" d="M484,931.9 C487,933.5 491,933.5 494.300,931.5" style="stroke-width:2.1"/>
<path class="ln" d="M484,935.0 C487,936.6 491,936.6 494.300,934.6" style="stroke-width:2.1"/>
<path class="ln" d="M484,938.1 C487,939.7 491,939.7 494.300,937.7" style="stroke-width:2.1"/>
<path class="ln" d="M484,941.2 C487,942.8 491,942.8 494.300,940.8" style="stroke-width:2.1"/>
<path class="ln" d="M484,944.3 C487,945.9 491,945.9 494.300,943.9" style="stroke-width:2.1"/>
<path class="ln" d="M484,947.4 C487,949.0 491,949.0 494.300,947.0" style="stroke-width:2.1"/>
<path class="ln" d="M484,950.5 C487,952.1 491,952.1 494.300,950.1" style="stroke-width:2.1"/>
<path class="ln" d="M484,953.6 C487,955.2 491,955.2 494.300,953.2" style="stroke-width:2.1"/>
<path class="ln" d="M484,956.7 C487,958.3 491,958.3 494.300,956.3" style="stroke-width:2.1"/>
<path class="ln" d="M484,959.8 C487,961.4 491,961.4 494.300,959.4" style="stroke-width:2.1"/>
<path class="ln" d="M484,962.9 C487,964.5 491,964.5 494.300,962.5" style="stroke-width:2.1"/>
<path class="ln" d="M484,966.0 C487,967.6 491,967.6 494.300,965.6" style="stroke-width:2.1"/>
<path class="ln" d="M484,969.1 C487,970.7 491,970.7 494.300,968.7" style="stroke-width:2.1"/>
<path class="ln" d="M484,972.2 C487,973.8 491,973.8 494.300,971.8" style="stroke-width:2.1"/>
<path class="lw" d="M484,975 L484.500,994 C487,996.500 492,996.500 494.800,994 L494.500,975" style="stroke-width:1.9"/>
<path class="tk" d="M493.800,976 L494,993" style="stroke-width:2.6"/>
<path class="lw" d="M484.300,1037 L484.300,1004 C486,1000.500 493,1000.500 495.300,1004 L495.300,1037 Z" style="stroke-width:1.9"/>
<path class="tk" d="M494.300,1005 L494.300,1036" style="stroke-width:2.8"/>
<path class="lw" d="M480,1038.500 C481,1035.500 500,1035.500 501,1038.500 L501,1045.500 L497,1051 L484.500,1051 L480,1045.500 Z" style="stroke-width:2.1"/>
<path class="ln" d="M480,1040.500 C485,1044 496,1044 501,1040.500 M485,1043.500 L485,1050.500 M496.500,1043.500 L496.500,1050.500" style="stroke-width:1.5"/>
<path class="lw" d="M537.500,902.500 L537.500,906 C539,912.500 558,912.500 560,906 L560,902.500" style="stroke-width:1.9"/>
<ellipse class="lw" cx="548.8" cy="902.5" rx="11.3" ry="5.8" style="stroke-width:2.1"/>
<ellipse class="bk" cx="548.8" cy="902.3" rx="5" ry="2.5"/>
<path class="lw" d="M538,926 L539,931 L544,935.500 L554,935.500 L559.500,931 L560.500,926" style="stroke-width:1.9"/>
<ellipse class="lw" cx="549.3" cy="925.3" rx="11.2" ry="5.9" style="stroke-width:2.1"/>
<ellipse class="bk" cx="549.3" cy="925" rx="5" ry="2.6"/>
<path class="ln" d="M544,931 L544,935.500 M554,931 L554,935.500" style="stroke-width:1.3"/>
<path class="lw" d="M540,991 L540.500,996 L545.500,1000.500 L556,1000.500 L561,996 L561.500,991" style="stroke-width:1.9"/>
<ellipse class="lw" cx="550.6" cy="990.3" rx="11" ry="5.9" style="stroke-width:2.1"/>
<ellipse class="bk" cx="550.6" cy="990" rx="5" ry="2.6"/>
<path class="ln" d="M545.500,996 L545.500,1000.500 M556,996 L556,1000.500" style="stroke-width:1.3"/>
</g>
<!-- 80_cable -->
<g>
<path class="ln" d="M609,983 C622,992 636,1008 648,1030 C658,1050 664,1068 672,1084 C680,1100 694,1112 713,1119" style="stroke-width:13.200;stroke-linecap:butt"/>
<path class="ln" d="M609,983 C622,992 636,1008 648,1030 C658,1050 664,1068 672,1084 C680,1100 694,1112 713,1119" style="stroke:#fdfefc;stroke-width:10;stroke-linecap:butt"/>
<path class="ln" d="M620,995 L632,1008" style="stroke-width:2.2"/>
<path class="th" d="M676,1097 L680,1101 M684,1104 L688,1107" style="stroke-width:1.2"/>
<path class="lw" d="M536.500,948 C536.500,943.500 544,941.500 552,943.500 L567,950 L571,958 L566,965 L557,962.500 C548,962 538,956 536.500,948 Z" style="stroke-width:2.2"/>
<ellipse class="bk" cx="549.5" cy="949.3" rx="5.4" ry="2.7"/>
<path class="ln" d="M538,952 C542,958 552,961 558,960" style="stroke-width:1.3"/>
<path class="lw" d="M571,948.500 L603,961.500 L594.500,982.500 L567.500,968.500 C564.500,962 566,952 571,948.500 Z" style="stroke-width:2.2"/>
<path class="ln" d="M577.800,958.500 L590.500,965.300" style="stroke-width:2.5"/>
<path class="ln" d="M571.800,965.300 L586,973.500" style="stroke-width:2.1"/>
<path class="lw" d="M599,959 C604,957.500 612,961.500 615.500,967.500 C618,972.500 616.500,977.500 613.500,980 L611.500,984 C610,989.500 605,992 600,990.500 C596,990 592,986 592,981 C593,972 596,965 599,959 Z" style="stroke-width:2.3"/>
<path class="ln" d="M614,974.500 C609.500,973 604.500,975.500 604,980.500 C603.500,985 606,988 609.500,988.500" style="stroke-width:2.6"/>
<path class="ln" d="M601.500,961.500 L597.500,968 M606.500,964 L603,970.500 M594,978.500 L598.500,980 M594.500,984.500 L599.500,986 M599,972 L602,973.500" style="stroke-width:2"/>
<path class="lw" d="M707.500,1126 L717.500,1113 L757,1136 L744,1155.500 Z" style="stroke-width:2"/>
<path class="ln" d="M722,1125 L742,1137 M719,1131 L733,1139.500 M727,1121.500 L738,1128" style="stroke-width:1.9"/>
<path class="ln" d="M707.500,1126 C706,1120 711,1113 717.500,1113" style="stroke-width:2"/>
<path class="lw" d="M746,1151 L756,1143.500 C762,1143.500 770,1146.500 779,1151.500 C786,1155.500 787,1164 781,1168 C776,1171 770,1170 764,1167.500 L749,1160.500 Z" style="stroke-width:2.2"/>
<ellipse class="bk" cx="772" cy="1162.3" rx="4.2" ry="2.6" transform="rotate(20 772 1162.3)"/>
<path class="bk" d="M745,1150.500 L753,1144.500 L757,1149 L750,1157 Z"/>
<path class="ln" d="M752,1158 L766,1164.500" style="stroke-width:1.3"/>
</g>
<!-- 10_dash -->
<g class="ds">
<path d="M275.700,115 L430,25" stroke-dasharray="66 4 6 4 33 4 5 4 60"/>
<path d="M275.700,115 L285,480 L292.300,847" stroke-dasharray="36.7 3 8 3 70 4 8.7 3.3 136.7 3.3 6.7 3.3 108 7 10 3 78 5 10 3.3 120 3 5 3.7 90"/>
<path d="M292.300,847 L156,927.500" stroke-dasharray="38 4 6 4 42 4 6 4 60"/>
<path d="M156,927.500 L156,884" stroke-dasharray="20 3 6 3 14"/>
<path d="M430,25 L431.500,92" stroke-dasharray="35 4 6 4 54"/>
<path d="M190.5,275 L191,283"/>
<path d="M191.6,300 L193,396" stroke-dasharray="22 3 6 3"/>
<path d="M407,477 L408.5,520" stroke-dasharray="14 3 5 3"/>
<path d="M465.5,438 L466.3,520" stroke-dasharray="22 3 6 3"/>
<path d="M467,528 L468.6,590" stroke-dasharray="30 3 6 3"/>
<path d="M482.5,690 L492.5,685" />
<path d="M492.5,685 L493.2,728" stroke-dasharray="8 3 20 3 6 3"/>
<path d="M493.5,746 L494.3,803" stroke-dasharray="24 3 6 3"/>
<path d="M515.5,829.5 L545.5,814" stroke-dasharray="12 3 5 3 20"/>
<path d="M545.5,814 L547,895" stroke-dasharray="30 3 6 3"/>
<path d="M549,908 L549.2,920 M549.4,932 L549.6,944 M550,955 L550.4,984"/>
<path d="M488,870 L488,900"/>
<path d="M383,857 L384.5,912" stroke-dasharray="26 3 6 3"/>
<path d="M385,920 L385,955 M385,966 L385,980"/>
<path d="M340,912.5 L260,961" stroke-dasharray="8 4 30 4 7 4 30 4"/>
<path d="M260,961 L291,980" stroke-dasharray="14 4 7 4 20"/>
</g>
<g class="ld" style="stroke-width:2">
<path d="M117,47 L95,47 L95,159 L120,159" stroke-linejoin="miter"/>
<path d="M420,362 L563.4,357.5 L577,877.5 L430,882" stroke-linejoin="miter"/>
</g>
<!-- 90_labels -->
<g class="ld">
<path d="M94,104 L72,125"/>
<path d="M86,222 L109,244"/>
<path d="M226,265 L199,290"/>
<path d="M50,334.5 L74,357"/>
<path d="M70,750 L92.5,727.5"/>
<path d="M543,181 L516,206.5"/>
<path d="M422,396 L456,410"/>
<path d="M529,386.5 L505.4,408.5"/>
<path d="M380,482.7 L401,465"/>
<path d="M504,565.6 L481.5,589"/>
<path d="M571.6,641.6 L623,630.4"/>
<path d="M475,644 L452,664"/>
<path d="M527.5,705 L505,730"/>
<path d="M330,855 L340.5,873"/>
<path d="M416,936 L394,957.5"/>
<path d="M355,1035 L377.5,1011"/>
<path d="M275,1015 L299,992.5"/>
<path d="M456,1075 L482.5,1051"/>
<path d="M595,913.75 L560,907.5"/>
<path d="M526,913.75 L535,921"/>
<path d="M530,976 L540,982.5"/>
<path d="M677.5,1000 L655,1022.5"/>
</g>
<g class="num">
<text x="53" y="134" textLength="15" lengthAdjust="spacingAndGlyphs">13</text>
<text x="70" y="220" textLength="15" lengthAdjust="spacingAndGlyphs">14</text>
<text x="226" y="261" textLength="15" lengthAdjust="spacingAndGlyphs">15</text>
<text x="29" y="337" textLength="15" lengthAdjust="spacingAndGlyphs">12</text>
<text x="54" y="762.5" textLength="13.5" lengthAdjust="spacingAndGlyphs">11</text>
<text x="547.5" y="185.5" textLength="6.5" lengthAdjust="spacingAndGlyphs">1</text>
<text x="410" y="401.6" textLength="7.6" lengthAdjust="spacingAndGlyphs">5</text>
<text x="531.5" y="386.5" textLength="8" lengthAdjust="spacingAndGlyphs">2</text>
<text x="367" y="493" textLength="7.7" lengthAdjust="spacingAndGlyphs">2</text>
<text x="507.4" y="560" textLength="7.8" lengthAdjust="spacingAndGlyphs">4</text>
<text x="629" y="638.4" textLength="7.6" lengthAdjust="spacingAndGlyphs">3</text>
<text x="480" y="640" textLength="7.6" lengthAdjust="spacingAndGlyphs">2</text>
<text x="532" y="702" textLength="8.2" lengthAdjust="spacingAndGlyphs">4</text>
<text x="312.5" y="855" textLength="15" lengthAdjust="spacingAndGlyphs">17</text>
<text x="421" y="939" textLength="16.5" lengthAdjust="spacingAndGlyphs">20</text>
<text x="338" y="1055" textLength="14.5" lengthAdjust="spacingAndGlyphs">19</text>
<text x="260" y="1036" textLength="15" lengthAdjust="spacingAndGlyphs">18</text>
<text x="447.5" y="1091" textLength="7.6" lengthAdjust="spacingAndGlyphs">6</text>
<text x="602.5" y="921" textLength="6.8" lengthAdjust="spacingAndGlyphs">7</text>
<text x="507.5" y="921" textLength="14" lengthAdjust="spacingAndGlyphs">10</text>
<text x="509.5" y="980" textLength="14.5" lengthAdjust="spacingAndGlyphs">10</text>
<text x="678" y="997.5" textLength="16" lengthAdjust="spacingAndGlyphs">16</text>
</g>
<!-- 00_wm -->
<g style="mix-blend-mode:multiply">
<text class="wm" transform="translate(7.5,7.0) rotate(-20.5)" textLength="96" lengthAdjust="spacingAndGlyphs">Boats.net ©</text>
<text class="wm" transform="translate(274.0,7.0) rotate(-20.5)" textLength="96" lengthAdjust="spacingAndGlyphs">Boats.net ©</text>
<text class="wm" transform="translate(540.5,7.0) rotate(-20.5)" textLength="96" lengthAdjust="spacingAndGlyphs">Boats.net ©</text>
<text class="wmd" transform="translate(7.5,273.0) rotate(-20.5)" textLength="96" lengthAdjust="spacingAndGlyphs">Boats.net ©</text>
<text class="wm" transform="translate(274.0,273.0) rotate(-20.5)" textLength="96" lengthAdjust="spacingAndGlyphs">Boats.net ©</text>
<text class="wm" transform="translate(540.5,273.0) rotate(-20.5)" textLength="96" lengthAdjust="spacingAndGlyphs">Boats.net ©</text>
<text class="wm" transform="translate(7.5,539.0) rotate(-20.5)" textLength="96" lengthAdjust="spacingAndGlyphs">Boats.net ©</text>
<text class="wm" transform="translate(274.0,539.0) rotate(-20.5)" textLength="96" lengthAdjust="spacingAndGlyphs">Boats.net ©</text>
<text class="wm" transform="translate(540.5,539.0) rotate(-20.5)" textLength="96" lengthAdjust="spacingAndGlyphs">Boats.net ©</text>
<text class="wm" transform="translate(7.5,805.0) rotate(-20.5)" textLength="96" lengthAdjust="spacingAndGlyphs">Boats.net ©</text>
<text class="wm" transform="translate(274.0,805.0) rotate(-20.5)" textLength="96" lengthAdjust="spacingAndGlyphs">Boats.net ©</text>
<text class="wm" transform="translate(540.5,805.0) rotate(-20.5)" textLength="96" lengthAdjust="spacingAndGlyphs">Boats.net ©</text>
<text class="wm" transform="translate(7.5,1071.0) rotate(-20.5)" textLength="96" lengthAdjust="spacingAndGlyphs">Boats.net ©</text>
<text class="wm" transform="translate(274.0,1071.0) rotate(-20.5)" textLength="96" lengthAdjust="spacingAndGlyphs">Boats.net ©</text>
<text class="wm" transform="translate(540.5,1071.0) rotate(-20.5)" textLength="96" lengthAdjust="spacingAndGlyphs">Boats.net ©</text>
</g>
<!-- 95_logo -->
<g opacity="0.62">
<g fill="#ee6a62">
<polygon points="508,1121.5 610.5,943.5 641.5,997.4 630.5,1020.8 620.5,1003.4 610.5,986 532.5,1121.5"/>
<polygon points="652.5,943.5 755,1121.5 547,1121.5 558.5,1101 719.5,1101 653.3,986 612,1061.5 650,1061.5 638,1039 649,1020 684.5,1082.5 577.5,1082.5 620.5,1003.4 631.5,980"/>
</g>
<text class="logo" x="471.5" y="1148.6" fill="#f9b24a" stroke="#f9b24a" stroke-width="1.3" textLength="116" lengthAdjust="spacingAndGlyphs">AUTO</text>
<text class="logo" x="588" y="1148.6" fill="#ee6a62" stroke="#ee6a62" stroke-width="1.3" textLength="119" lengthAdjust="spacingAndGlyphs">MOTO</text>
</g>
<text class="logo" x="708" y="1148.6" fill="#6e6e6e" stroke="#6e6e6e" stroke-width="1.3" opacity="0.85" textLength="82" lengthAdjust="spacingAndGlyphs">HUB</text>
</svg>
</body>
</html>
